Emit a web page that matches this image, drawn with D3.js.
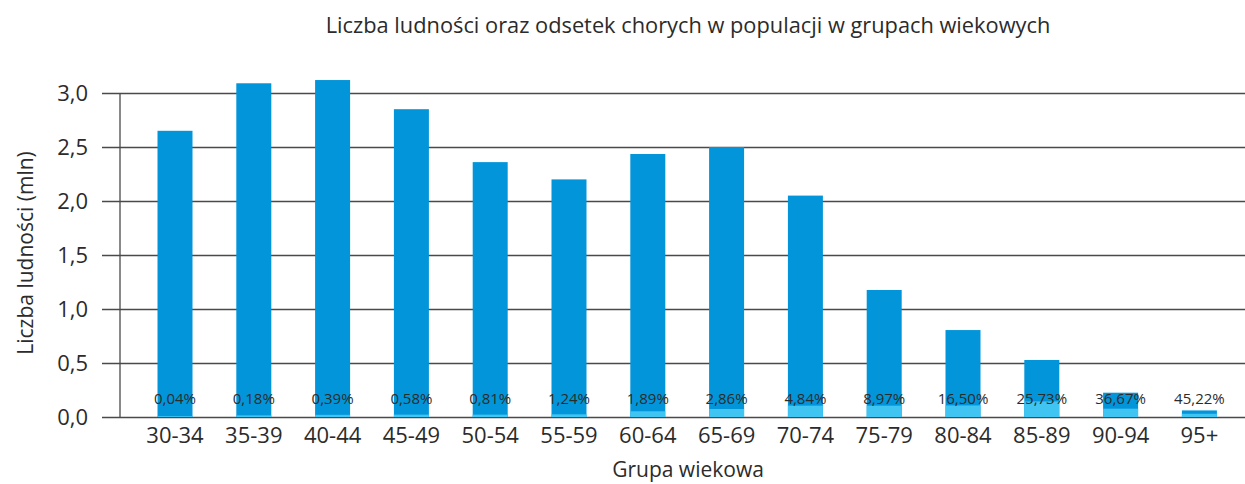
<!DOCTYPE html>
<html>
<head>
<meta charset="utf-8">
<script src="https://cdn.jsdelivr.net/npm/d3@7"></script>
<style>
  body { margin: 0; background: #fff; }
  svg text { font-family: "Open Sans", sans-serif; fill: #2b2b2b; }
</style>
</head>
<body>
<svg id="chart" width="1245" height="484"></svg>
<script>
"use strict";
// age groups
var groups = ["30-34", "35-39", "40-44", "45-49", "50-54", "55-59", "60-64",
              "65-69", "70-74", "75-79", "80-84", "85-89", "90-94", "95+"];
// population, mln
var population = [2.65, 3.09, 3.12, 2.85, 2.36, 2.20, 2.435,
                  2.50, 2.05, 1.176, 0.805, 0.528, 0.225, 0.061];
// sick part of population, mln
var sick = [0.008, 0.015, 0.02, 0.022, 0.022, 0.025, 0.053,
            0.074, 0.105, 0.105, 0.107, 0.144, 0.077, 0.03];
// share of sick, labels
var sickPct = ["0,04%", "0,18%", "0,39%", "0,58%", "0,81%", "1,24%", "1,89%",
               "2,86%", "4,84%", "8,97%", "16,50%", "25,73%", "36,67%", "45,22%"];
var yTicks = [0, 0.5, 1.0, 1.5, 2.0, 2.5, 3.0];

var svg = d3.select("#chart"),
    svgWidth = 1245,
    axisX = 120,
    gridLeft = 102,
    step = 78.8;

var x = d3.scaleBand()
  .domain(groups)
  .range([175 - step / 2, 175 - step / 2 + step * groups.length])
  .paddingInner(0.556)
  .paddingOuter(0.278);

var y = d3.scaleLinear().domain([0, 3]).range([417, 93]);

var data = groups.map(function(g, i) {
  return {g: g, pop: population[i], sick: sick[i], pct: sickPct[i]};
});

// grid + y tick labels
var yAxis = svg.append("g")
  .attr("transform", "translate(" + gridLeft + ",0)")
  .call(d3.axisLeft(y)
    .tickValues(yTicks)
    .tickSize(-(svgWidth - gridLeft))
    .tickPadding(14)
    .tickFormat(d => d3.format(".1f")(d).replace(".", ",")));
yAxis.select(".domain").remove();
yAxis.selectAll(".tick line").attr("stroke", "#4a4a4a").attr("stroke-width", 1.3);
yAxis.selectAll(".tick text")
  .attr("font-size", 22)
  .style("font-family", "'Open Sans', sans-serif")
  .attr("fill", "#2b2b2b");

svg.append("line")
  .attr("x1", axisX).attr("x2", axisX)
  .attr("y1", y(3)).attr("y2", y(0))
  .attr("stroke", "#4a4a4a").attr("stroke-width", 1.3);

// bars
svg.append("g").selectAll("rect")
  .data(data)
  .join("rect")
  .attr("x", d => x(d.g))
  .attr("width", x.bandwidth())
  .attr("y", d => y(d.pop))
  .attr("height", d => y(0) - y(d.pop))
  .attr("fill", "#0295d9");

svg.append("g").selectAll("rect")
  .data(data)
  .join("rect")
  .attr("x", d => x(d.g))
  .attr("width", x.bandwidth())
  .attr("y", d => y(d.sick))
  .attr("height", d => y(0) - y(d.sick))
  .attr("fill", "#40c5f2");

// percent labels
svg.append("g").selectAll("text")
  .data(data)
  .join("text")
  .attr("x", d => x(d.g) + x.bandwidth() / 2)
  .attr("y", 404)
  .attr("text-anchor", "middle")
  .attr("font-size", 15)
  .attr("fill", "#333")
  .text(d => d.pct);

// x axis labels
var xAxis = svg.append("g")
  .attr("transform", "translate(0," + y(0) + ")")
  .call(d3.axisBottom(x).tickSize(0).tickPadding(10));
xAxis.select(".domain").remove();
xAxis.selectAll(".tick text")
  .attr("font-size", 22)
  .style("font-family", "'Open Sans', sans-serif")
  .attr("fill", "#2b2b2b");

// titles
svg.append("text")
  .attr("x", 688)
  .attr("y", 33)
  .attr("text-anchor", "middle")
  .attr("font-size", 21.8)
  .text("Liczba ludności oraz odsetek chorych w populacji w grupach wiekowych");

svg.append("text")
  .attr("x", 688)
  .attr("y", 477)
  .attr("text-anchor", "middle")
  .attr("font-size", 21)
  .text("Grupa wiekowa");

svg.append("text")
  .attr("transform", "translate(33,253) rotate(-90)")
  .attr("text-anchor", "middle")
  .attr("font-size", 21)
  .text("Liczba ludności (mln)");
</script>
</body>
</html>
